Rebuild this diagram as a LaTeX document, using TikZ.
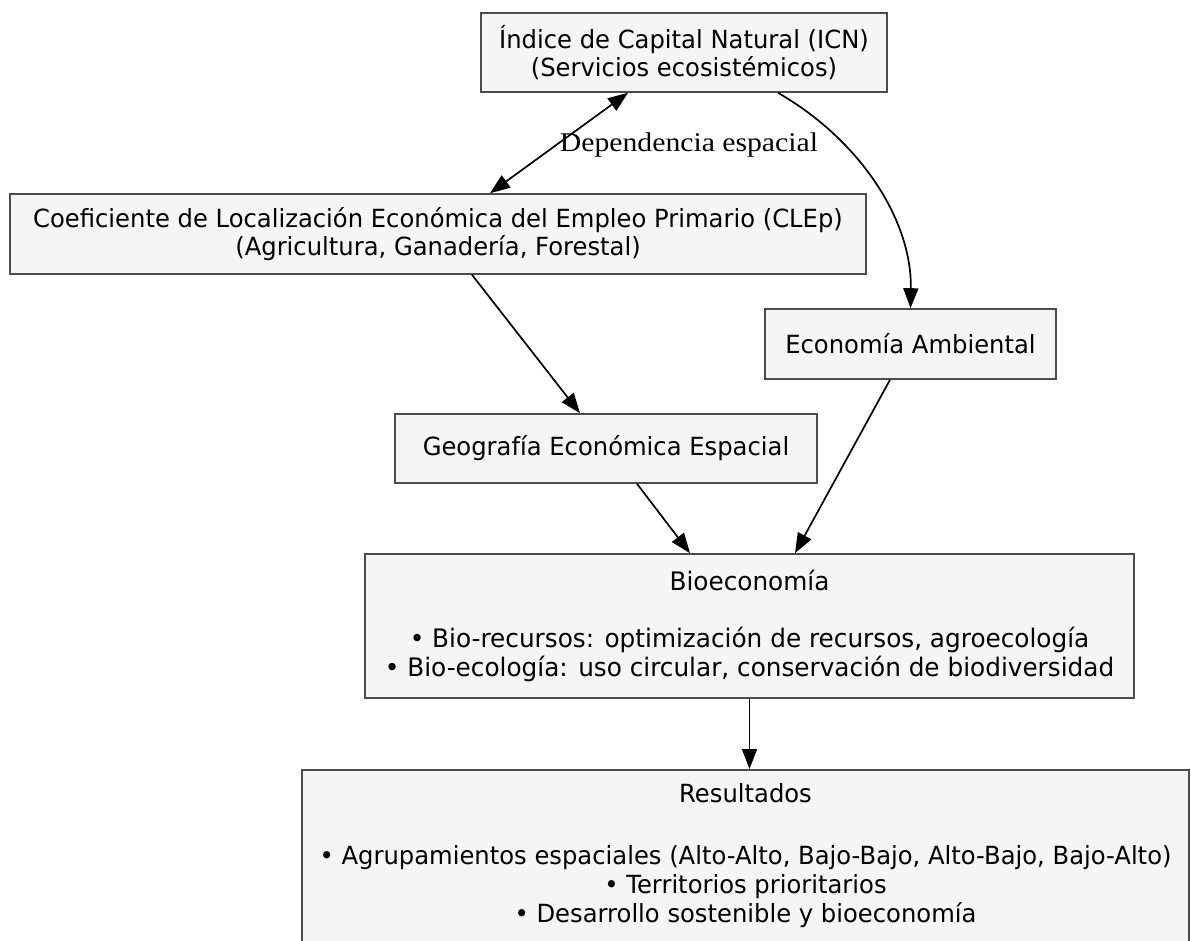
\documentclass[tikz,border=0pt]{standalone}
\usepackage{fontspec}
\setmainfont{DejaVu Sans}
\newfontfamily\boxfont[FakeStretch=0.97]{DejaVu Sans}
\newfontfamily\labelfont[FakeStretch=1.1]{Liberation Serif}
\usetikzlibrary{arrows.meta,calc}
\begin{document}
\begin{tikzpicture}[x=1pt,y=-1pt,
  box/.style={draw=black!70, fill=black!4, line width=1.6pt, inner sep=0pt,
    align=center, font=\boxfont\fontsize{25}{28.5}\selectfont},
  tip/.tip={Triangle[length=20pt,width=15pt]},
  link/.style={line width=1.7pt, -tip},
  twoway/.style={line width=1.7pt, tip-tip},
  edgelabel/.style={font=\labelfont\fontsize{27}{30}\selectfont, inner sep=0pt},
]
\useasboundingbox[fill=white] (0,0) rectangle (1191,941);

% boxes
\node[box, minimum width=406, minimum height=79] (icn) at (684,52.5)
  {Índice de Capital Natural (ICN)\\(Servicios ecosistémicos)};
\node[box, minimum width=856, minimum height=80] (clep) at (438,234)
  {Coeficiente de Localización Económica del Empleo Primario (CLEp)\\(Agricultura, Ganadería, Forestal)};
\node[box, minimum width=291, minimum height=70] (amb) at (910.5,344)
  {Economía Ambiental};
\node[box, minimum width=422, minimum height=69] (geo) at (606,448.5)
  {Geografía Económica Espacial};
\node[box, minimum width=769, minimum height=144,
      font=\boxfont\fontsize{25.5}{28.5}\selectfont] (bio) at (749.5,626)
  {Bioeconomía\\[28.5pt]• Bio-recursos: optimización de recursos, agroecología\\• Bio-ecología: uso circular, conservación de biodiversidad};
% the lower box runs on past the bottom edge of the page
\node[box, minimum width=887, minimum height=200, text depth=34pt, anchor=north,
      font=\boxfont\fontsize{25}{29}\selectfont] (res) at (745.5,769)
  {Resultados\\[33pt]• Agrupamientos espaciales (Alto-Alto, Bajo-Bajo, Alto-Bajo, Bajo-Alto)\\• Territorios prioritarios\\• Desarrollo sostenible y bioeconomía};

% connectors
\draw[twoway] ([xshift=-56pt]icn.south) -- node[edgelabel, pos=0.5, xshift=130pt, yshift=-2pt] (dep) {Dependencia espacial} ([xshift=52pt]clep.north);
\draw[link] ([xshift=94pt]icn.south) .. controls (860,140) and (912,220) .. (amb.north);
\draw[link] ([xshift=34pt]clep.south) -- ([xshift=-26pt]geo.north);
\draw[link] ([xshift=-20.5pt]amb.south) -- ([xshift=45.5pt]bio.north);
\draw[link] ([xshift=31pt]geo.south) -- ([xshift=-59.5pt]bio.north);
\draw[link] (bio.south) -- ([xshift=4pt]res.north);
\end{tikzpicture}
\end{document}
